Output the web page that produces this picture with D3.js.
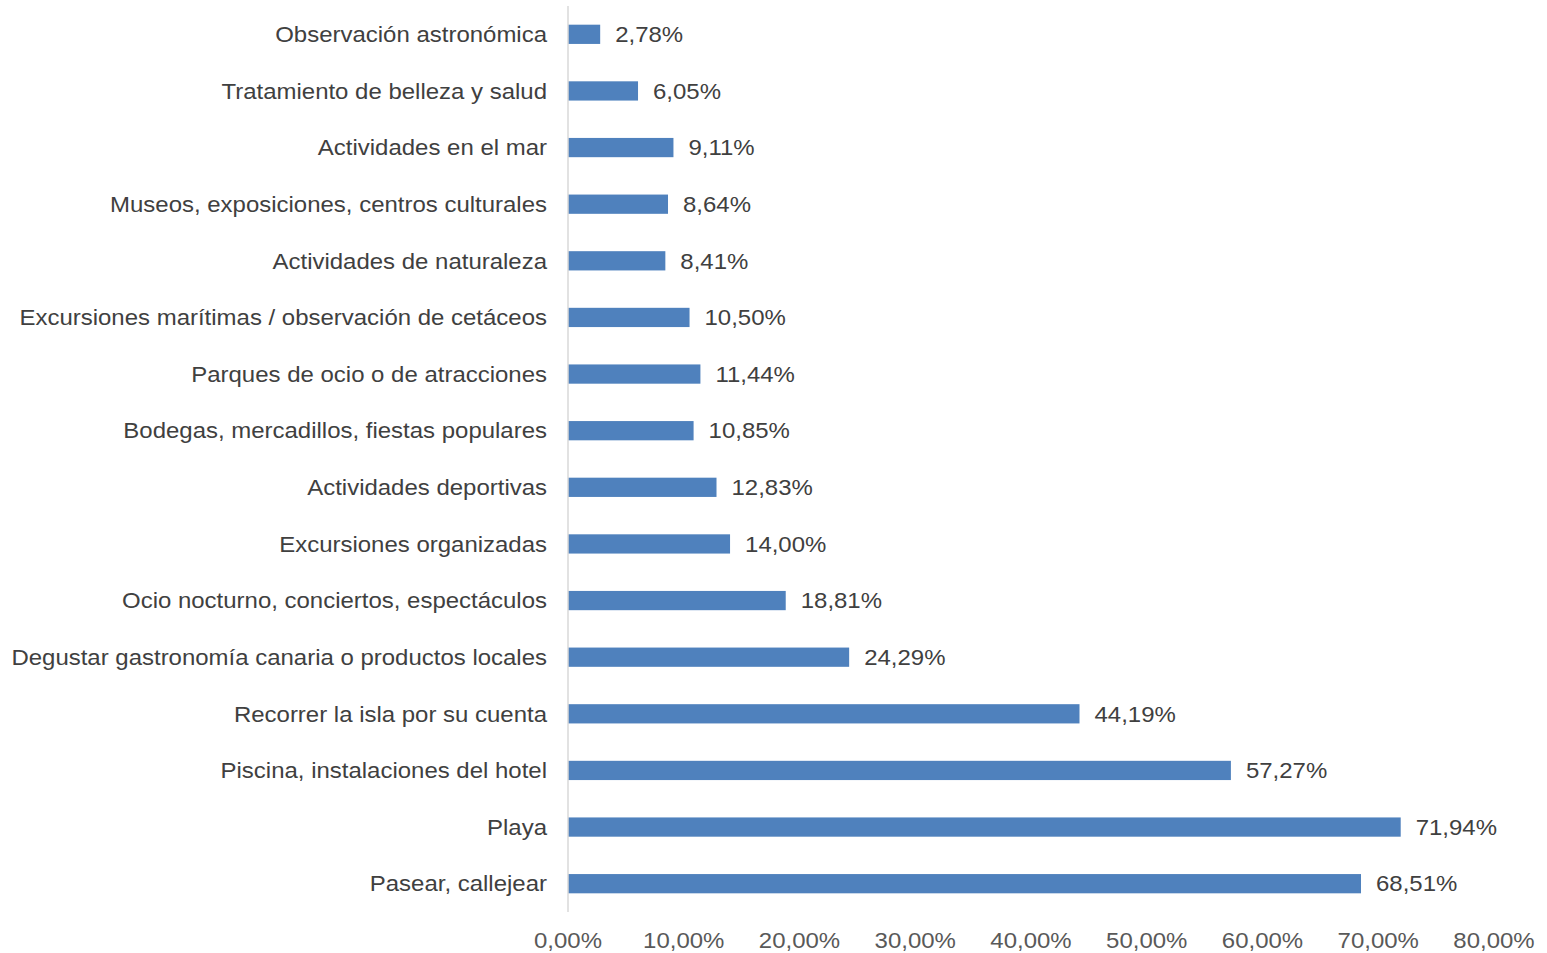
<!DOCTYPE html>
<html><head><meta charset="utf-8">
<script src="https://cdn.jsdelivr.net/npm/d3@7"></script>
<style>body{margin:0;background:#fff;font-family:"Liberation Sans",Arial,sans-serif;}</style>
</head><body><div id="chart"></div>
<script>
const categories = ['Observación astronómica','Tratamiento de belleza y salud','Actividades en el mar','Museos, exposiciones, centros culturales','Actividades de naturaleza','Excursiones marítimas / observación de cetáceos','Parques de ocio o de atracciones','Bodegas, mercadillos, fiestas populares','Actividades deportivas','Excursiones organizadas','Ocio nocturno, conciertos, espectáculos','Degustar gastronomía canaria o productos locales','Recorrer la isla por su cuenta','Piscina, instalaciones del hotel','Playa','Pasear, callejear'];
const values = [2.78,6.05,9.11,8.64,8.41,10.50,11.44,10.85,12.83,14.00,18.81,24.29,44.19,57.27,71.94,68.51];
const ticks = [0,10,20,30,40,50,60,70,80];

const W = 1547, H = 953;
const svg = d3.select('#chart').append('svg').attr('width', W).attr('height', H);
const x = d3.scaleLinear().domain([0, 80]).range([568, 1494]);
const y = d3.scaleBand().domain(categories).range([6, 912]).paddingInner(0.66).paddingOuter(0.33);
const fmt = (v) => v.toFixed(2).replace('.', ',') + '%';
const sx = 1.09;

svg.selectAll('rect.bar').data(values).join('rect')
  .attr('x', x(0)).attr('y', (d, i) => y(categories[i]))
  .attr('width', (d) => x(d) - x(0)).attr('height', y.bandwidth())
  .attr('fill', '#4F81BD');

svg.append('line').attr('x1', x(0)).attr('x2', x(0)).attr('y1', 6).attr('y2', 912)
  .attr('stroke', '#d9d9d9').attr('stroke-width', 1.5);

svg.selectAll('text.cat').data(categories).join('text')
  .attr('transform', (d) => `translate(547,${y(d) + y.bandwidth() / 2}) scale(${sx},1)`)
  .attr('dy', '0.35em').attr('text-anchor', 'end')
  .attr('font-size', 22).attr('fill', '#404040').text((d) => d);

svg.selectAll('text.val').data(values).join('text')
  .attr('transform', (d, i) => `translate(${x(d) + 15},${y(categories[i]) + y.bandwidth() / 2}) scale(${sx},1)`)
  .attr('dy', '0.35em').attr('font-size', 22).attr('fill', '#404040').text(fmt);

svg.selectAll('text.tick').data(ticks).join('text')
  .attr('transform', (d) => `translate(${x(d)},948) scale(${sx},1)`).attr('text-anchor', 'middle')
  .attr('font-size', 22).attr('fill', '#595959').text(fmt);
</script></body></html>
